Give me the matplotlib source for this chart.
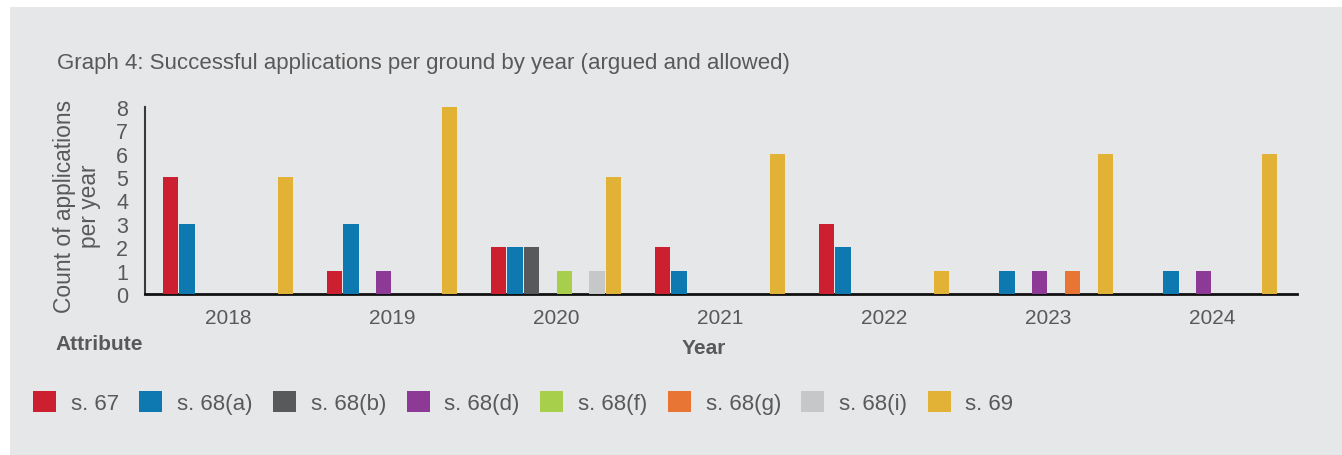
import numpy as np
import matplotlib
matplotlib.use('Agg')
import matplotlib.pyplot as plt
from matplotlib.patches import Rectangle, Patch

# ---- data ----
years = ['2018', '2019', '2020', '2021', '2022', '2023', '2024']
grounds = ['s. 67', 's. 68(a)', 's. 68(b)', 's. 68(d)', 's. 68(f)', 's. 68(g)', 's. 68(i)', 's. 69']
s67 = [5, 1, 2, 2, 3, 0, 0]
s68a = [3, 3, 2, 1, 2, 1, 1]
s68b = [0, 0, 2, 0, 0, 0, 0]
s68d = [0, 1, 0, 0, 0, 1, 1]
s68f = [0, 0, 1, 0, 0, 0, 0]
s68g = [0, 0, 0, 0, 0, 1, 0]
s68i = [0, 0, 1, 0, 0, 0, 0]
s69 = [5, 8, 5, 6, 1, 6, 6]
series = [s67, s68a, s68b, s68d, s68f, s68g, s68i, s69]
colors = ['#CC1F30', '#0E79B0', '#58595B', '#8D3A96', '#A7CF4B', '#E87533', '#C6C7C8', '#E2B236']

bg = '#E6E7E9'
txt = '#58595B'

plt.rcParams['font.family'] = ['Liberation Sans', 'DejaVu Sans']

fig = plt.figure(figsize=(13.42, 4.56), dpi=100, facecolor='white')
# grey panel behind everything
fig.patches.append(Rectangle((10 / 1342, 0), 1, 1 - 8 / 456, transform=fig.transFigure,
                             facecolor=bg, edgecolor='none', zorder=-10))

ax = fig.add_axes([145 / 1342, 1 - 295 / 456, (1297 - 145) / 1342, (295 - 108) / 456])
ax.set_facecolor('none')
ax.set_zorder(2)

x = np.arange(len(years))
w = 0.092
for k, (vals, c) in enumerate(zip(series, colors)):
    ax.bar(x + (k - 3.5) * 0.1, vals, width=w, color=c, zorder=3)

ax.set_xlim(-0.506, 6.518)
ax.set_ylim(0, 8)
ax.set_yticks(range(0, 9))
ax.set_xticks(x)
ax.set_xticklabels(years)
ax.tick_params(axis='both', length=0, colors=txt)
ax.tick_params(axis='y', labelsize=15.5, pad=12)
ax.tick_params(axis='x', labelsize=15, pad=10)
for s in ['top', 'right']:
    ax.spines[s].set_visible(False)
ax.spines['left'].set_color('#3a3a3a')
ax.spines['left'].set_linewidth(1.5)
ax.spines['bottom'].set_color('#111111')
ax.spines['bottom'].set_linewidth(2)

fig.text(57 / 1342, 1 - 63 / 456, 'Graph 4: Successful applications per ground by year (argued and allowed)',
         fontsize=16, color='#595959', va='center', ha='left')
fig.text(77 / 1342, 1 - 206 / 456, 'Count of applications\nper year', rotation=90,
         fontsize=16.4, color=txt, ha='center', va='center', linespacing=1.1)
fig.text(55 / 1342, 1 - 345 / 456, 'Attribute', fontsize=15, color=txt,
         fontweight='bold', ha='left', va='center')
fig.text(704 / 1342, 1 - 348 / 456, 'Year', fontsize=15, color=txt,
         fontweight='bold', ha='center', va='center')

handles = [Patch(facecolor=c, edgecolor='none') for c in colors]
fig.legend(handles, grounds, loc='center left', bbox_to_anchor=(33 / 1342, 1 - 403.5 / 456),
           ncol=8, frameon=False, fontsize=16, labelcolor=txt,
           handlelength=1.04, handleheight=1.04, handletextpad=0.66, columnspacing=0.92,
           borderaxespad=0, borderpad=0)

fig.savefig('out.png', dpi=100, facecolor='white')
